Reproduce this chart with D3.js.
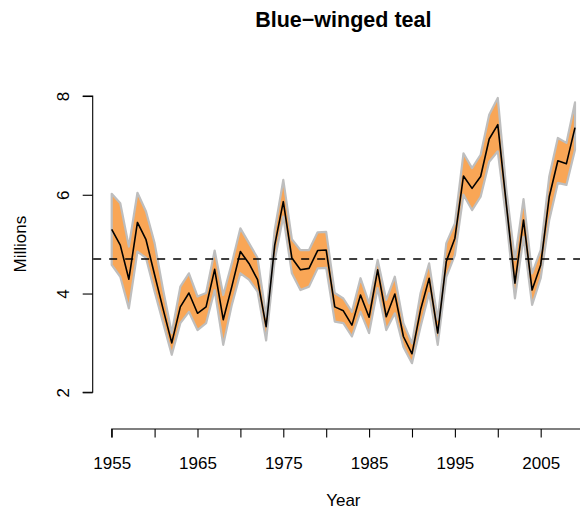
<!DOCTYPE html>
<html>
<head>
<meta charset="utf-8">
<script src="https://cdn.jsdelivr.net/npm/d3@7"></script>
<style>
  html, body { margin: 0; padding: 0; background: #fff; }
  svg { display: block; font-family: "Liberation Sans", Arial, Helvetica, sans-serif; }
</style>
</head>
<body>
<svg id="chart" width="580" height="510"></svg>
<script>
const years = d3.range(1955, 2010);
const estimate = [5.30, 4.98, 4.29, 5.44, 5.09, 4.38, 3.68, 3.00, 3.73, 4.01,
  3.60, 3.73, 4.49, 3.47, 4.14, 4.85, 4.61, 4.28, 3.33, 4.98,
  5.86, 4.72, 4.48, 4.51, 4.87, 4.88, 3.73, 3.65, 3.36, 3.97,
  3.52, 4.48, 3.53, 3.99, 3.13, 2.78, 3.67, 4.31, 3.20, 4.65,
  5.12, 6.38, 6.13, 6.37, 7.13, 7.42, 5.80, 4.21, 5.49, 4.07,
  4.58, 5.96, 6.69, 6.63, 7.36];
const upper = [6.02, 5.83, 4.95, 6.04, 5.66, 5.02, 4.07, 3.20, 4.14, 4.41,
  3.94, 4.01, 4.87, 3.97, 4.61, 5.32, 5.02, 4.72, 3.53, 5.29,
  6.30, 5.10, 4.88, 4.88, 5.24, 5.25, 4.01, 3.90, 3.63, 4.31,
  3.80, 4.68, 3.87, 4.34, 3.40, 2.99, 4.01, 4.61, 3.47, 5.02,
  5.42, 6.84, 6.54, 6.81, 7.62, 7.96, 6.10, 4.68, 5.91, 4.41,
  4.88, 6.37, 7.15, 7.05, 7.87];
const lower = [4.58, 4.34, 3.70, 4.85, 4.72, 4.04, 3.40, 2.76, 3.40, 3.63,
  3.26, 3.40, 4.07, 2.96, 3.77, 4.41, 4.28, 4.04, 3.05, 4.68,
  5.56, 4.41, 4.07, 4.14, 4.51, 4.52, 3.43, 3.40, 3.13, 3.63,
  3.20, 4.11, 3.26, 3.60, 2.92, 2.59, 3.33, 4.01, 2.96, 4.34,
  4.78, 6.00, 5.69, 5.96, 6.67, 6.88, 5.49, 3.90, 5.15, 3.77,
  4.31, 5.49, 6.24, 6.20, 6.91];
const meanLevel = 4.7;
const xTicks = d3.range(1955, 2011, 5);
const xLabels = [1955, 1965, 1975, 1985, 1995, 2005];
const yTicks = [2, 4, 6, 8];
const title = "Blue\u2212winged teal";
const xTitle = "Year";
const yTitle = "Millions";

const svg = d3.select("#chart");
const x = d3.scaleLinear().domain([1955, 2009]).range([111.7, 575]);
const y = d3.scaleLinear().domain([2, 8]).range([392.3, 96]);
const plotLeft = x(1955 - 0.04 * 54);
const plotRight = x(2009 + 0.04 * 54);

const data = years.map((yr, i) => ({yr, est: estimate[i], lo: lower[i], hi: upper[i]}));

// band
const area = d3.area().x(d => x(d.yr)).y0(d => y(d.lo)).y1(d => y(d.hi));
svg.append("path").datum(data)
  .attr("d", area)
  .attr("fill", "#F9A656")
  .attr("stroke", "#BEBEBE")
  .attr("stroke-width", 2.2)
  .attr("stroke-linejoin", "round");

// dashed mean line
svg.append("line")
  .attr("x1", plotLeft).attr("x2", plotRight)
  .attr("y1", y(meanLevel)).attr("y2", y(meanLevel))
  .attr("stroke", "#000").attr("stroke-width", 1.4)
  .attr("stroke-dasharray", "8,8");

// estimate line
const line = d3.line().x(d => x(d.yr)).y(d => y(d.est));
svg.append("path").datum(data)
  .attr("d", line)
  .attr("fill", "none")
  .attr("stroke", "#000")
  .attr("stroke-width", 1.6)
  .attr("stroke-linejoin", "round");

// x axis
const xAxisY = 429;
const gx = svg.append("g").attr("transform", `translate(0,${xAxisY})`);
gx.call(d3.axisBottom(x).tickValues(xTicks).tickSize(8.5)
  .tickFormat(d => xLabels.includes(d) ? d3.format("d")(d) : ""));
gx.select(".domain").attr("d", `M${x(1955)},8.5V0H${x(2010)}V8.5`).attr("stroke-width", 1.1);
gx.selectAll(".tick line").attr("stroke-width", 1.1);
gx.selectAll(".tick text").attr("font-size", 17).attr("font-family", "Liberation Sans, Arial, sans-serif")
  .attr("fill", "#000").attr("y", 0).attr("dy", 0)
  .attr("transform", "translate(0,39.5)");

// y axis
const yAxisX = 92.7;
const gy = svg.append("g").attr("transform", `translate(${yAxisX},0)`);
gy.call(d3.axisLeft(y).tickValues(yTicks).tickSize(10).tickFormat(d3.format("d")));
gy.select(".domain").attr("d", `M-10,${y(2)}H0V${y(8)}H-10`).attr("stroke-width", 1.1);
gy.selectAll(".tick line").attr("stroke-width", 1.1);
gy.selectAll(".tick text")
  .attr("font-size", 17).attr("font-family", "Liberation Sans, Arial, sans-serif")
  .attr("fill", "#000")
  .attr("x", 0).attr("y", 0).attr("dy", 0)
  .attr("text-anchor", "middle")
  .attr("transform", `translate(${69 - yAxisX},0) rotate(-90)`);

// titles
svg.append("text")
  .attr("x", (plotLeft + plotRight) / 2).attr("y", 27)
  .attr("text-anchor", "middle")
  .attr("font-size", 21.5).attr("font-weight", "bold")
  .text(title);

svg.append("text")
  .attr("x", (plotLeft + plotRight) / 2).attr("y", 506)
  .attr("text-anchor", "middle")
  .attr("font-size", 17)
  .text(xTitle);

svg.append("text")
  .attr("transform", `translate(26,${(y(2) + y(8)) / 2}) rotate(-90)`)
  .attr("text-anchor", "middle")
  .attr("font-size", 17)
  .text(yTitle);
</script>
</body>
</html>
